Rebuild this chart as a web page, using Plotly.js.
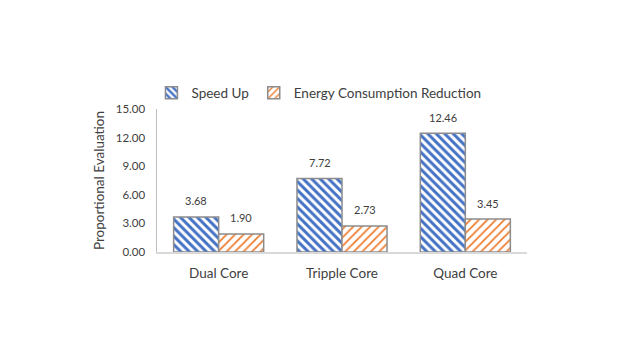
<!DOCTYPE html>
<html>
<head>
<meta charset="utf-8">
<script src="https://cdn.plot.ly/plotly-3.0.1.min.js"></script>
<style>
  html, body { margin: 0; padding: 0; background: #fff; }
  #graph { width: 622px; height: 355px; }
</style>
</head>
<body>
<div id="graph"></div>
<script>
// data
const categories = ['Dual Core', 'Tripple Core', 'Quad Core'];
const speedUp = [3.68, 7.72, 12.46];
const energyReduction = [1.90, 2.73, 3.45];
const seriesNames = ['Speed Up', 'Energy Consumption Reduction'];
const yTicks = [0, 3, 6, 9, 12, 15];

const FONT = 'Lato, "Open Sans", sans-serif';
const BLUE = '#4472C4';
const ORANGE = '#ED7D31';
const EDGE = '#8c8c8c';

const traces = [{
    type: 'bar',
    x: categories,
    y: speedUp,
    name: seriesNames[0],
    marker: {
        color: '#ffffff',
        line: { color: EDGE, width: 1.5 },
        pattern: { shape: '\\', fgcolor: BLUE, bgcolor: '#ffffff', size: 6, solidity: 0.5, fillmode: 'replace' }
    },
    hoverinfo: 'none'
}, {
    type: 'bar',
    x: categories,
    y: energyReduction,
    name: seriesNames[1],
    marker: {
        color: '#ffffff',
        line: { color: EDGE, width: 1.5 },
        pattern: { shape: '/', fgcolor: ORANGE, bgcolor: '#ffffff', size: 6, solidity: 0.3, fillmode: 'replace' }
    },
    hoverinfo: 'none'
}];

// value labels above each bar
const annotations = [];
categories.forEach((c, i) => {
    annotations.push({ x: c, y: speedUp[i], text: speedUp[i].toFixed(2), xshift: -22.5, yshift: 16,
        showarrow: false, font: { family: FONT, size: 11, color: '#404040' } });
    annotations.push({ x: c, y: energyReduction[i], text: energyReduction[i].toFixed(2), xshift: 22.5, yshift: 16,
        showarrow: false, font: { family: FONT, size: 11, color: '#404040' } });
});

const layout = {
    width: 622,
    height: 355,
    margin: { l: 157, r: 95, t: 109, b: 103 },
    paper_bgcolor: '#ffffff',
    plot_bgcolor: '#ffffff',
    font: { family: FONT, size: 11, color: '#404040' },
    barmode: 'group',
    bargap: 0.27,
    bargroupgap: 0,
    showlegend: true,
    legend: {
        orientation: 'h',
        x: -0.015, xanchor: 'left',
        y: 1.112, yanchor: 'middle',
        font: { family: FONT, size: 13.5, color: '#404040' },
        traceorder: 'normal'
    },
    xaxis: {
        type: 'category',
        showline: true,
        linecolor: '#d9d9d9',
        linewidth: 1.5,
        ticks: '',
        ticklabelstandoff: 8,
        tickfont: { family: FONT, size: 13.5, color: '#404040' }
    },
    yaxis: {
        range: [0, 15],
        tickvals: yTicks,
        tickformat: '.2f',
        showgrid: false,
        zeroline: false,
        showline: true,
        linecolor: '#bfbfbf',
        linewidth: 1.5,
        ticks: '',
        ticklabelstandoff: 8,
        tickfont: { family: FONT, size: 11.5, color: '#404040' },
        title: { text: 'Proportional Evaluation', font: { family: FONT, size: 13.5, color: '#404040' }, standoff: 8 }
    },
    annotations: annotations
};

Plotly.newPlot('graph', traces, layout, { staticPlot: true });
</script>
</body>
</html>
